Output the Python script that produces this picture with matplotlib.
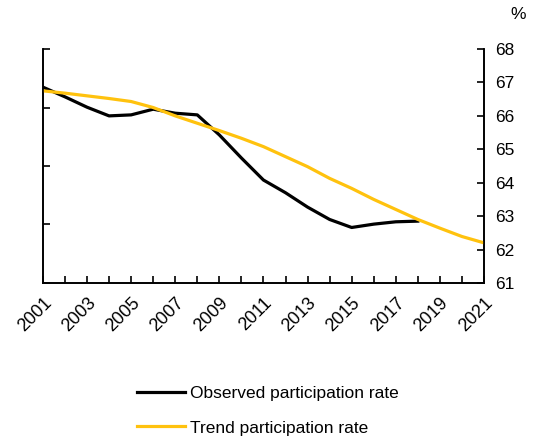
import matplotlib
matplotlib.use("Agg")
import matplotlib.pyplot as plt
from matplotlib.ticker import MultipleLocator

plt.rcParams['font.family'] = ['Liberation Sans', 'DejaVu Sans']

years_obs = list(range(2001, 2019))
observed = [66.86, 66.57, 66.26, 66.0, 66.03, 66.2, 66.08, 66.03, 65.43, 64.74,
            64.08, 63.7, 63.27, 62.9, 62.66, 62.76, 62.83, 62.85]
years_trend = list(range(2001, 2022))
trend = [66.75, 66.68, 66.6, 66.52, 66.43, 66.25, 66.0, 65.78, 65.56, 65.33,
         65.08, 64.78, 64.48, 64.13, 63.83, 63.5, 63.2, 62.9, 62.64, 62.39, 62.2]
right_ticks = [61, 62, 63, 64, 65, 66, 67, 68]
xlabels = list(range(2001, 2022, 2))

fig = plt.figure(figsize=(5.5, 4.38), dpi=100)
axl = fig.add_axes([0.078, 0.354, 0.802, 0.534])

# left axis: ticks only, 4 intervals
axl.set_ylim(0, 4)
axl.set_yticks([0, 1, 2, 3, 4])
axl.set_yticklabels([])
axl.tick_params(axis='y', direction='in', length=5, width=1.2)
axl.spines['top'].set_visible(False)
for s in ['left', 'right', 'bottom']:
    axl.spines[s].set_linewidth(1.2)

axl.set_xlim(2001, 2021)
axl.set_xticks(xlabels)
axl.set_xticklabels([str(y) for y in xlabels], rotation=45, ha='right', va='top',
                    rotation_mode='anchor', fontsize=13)
axl.xaxis.set_minor_locator(MultipleLocator(1))
axl.tick_params(axis='x', which='both', direction='in', length=5, width=1.2, pad=8)

# right axis carries the data and labels
ax = axl.twinx()
ax.plot(years_obs, observed, color='black', lw=2.3, label='Observed participation rate')
ax.plot(years_trend, trend, color='#FFC20E', lw=2.3, label='Trend participation rate')
ax.set_ylim(61, 68)
ax.set_yticks(right_ticks)
ax.tick_params(axis='y', direction='in', length=5, width=1.2, labelsize=12.5, pad=8)
ax.spines['top'].set_visible(False)
for s in ['left', 'right', 'bottom']:
    ax.spines[s].set_linewidth(1.2)

fig.text(0.942, 0.966, '%', fontsize=12.5, ha='center', va='center')

fig.legend(loc='center left', bbox_to_anchor=(0.22, 0.062), frameon=False,
           fontsize=12.5, handlelength=2.8, handletextpad=0.25, labelspacing=1.1)

fig.savefig('out.png', dpi=100)
